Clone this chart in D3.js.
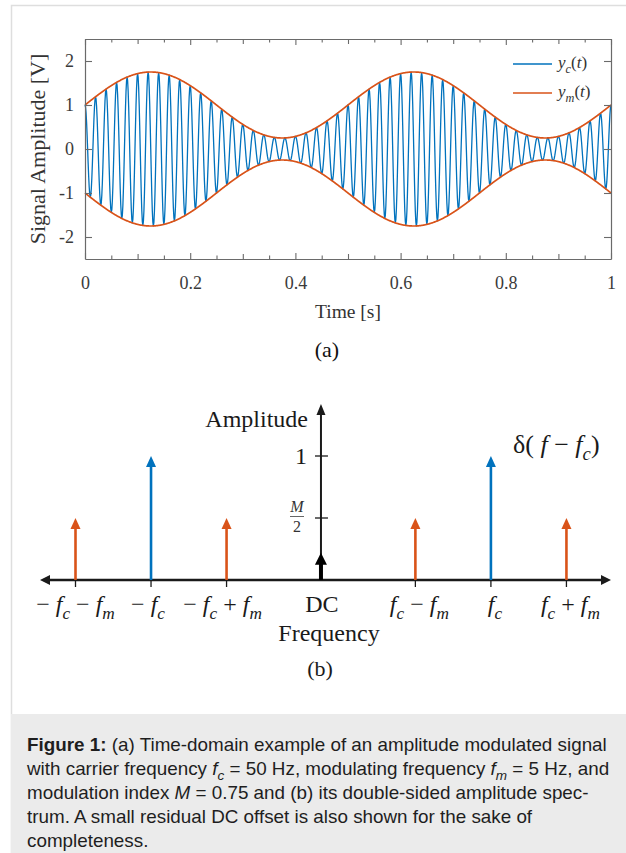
<!DOCTYPE html>
<html>
<head>
<meta charset="utf-8">
<script src="https://cdn.jsdelivr.net/npm/d3@7"></script>
<style>
  html, body { margin: 0; padding: 0; background: #fff; }
  svg { display: block; }
</style>
</head>
<body>
<svg id="fig" width="626" height="853"></svg>
<script>
// ---------- (a) time-domain AM signal ----------
const timeMajorTicks = [0, 0.2, 0.4, 0.6, 0.8, 1];
const timeMidTicks = [0.1, 0.3, 0.5, 0.7, 0.9];
const timeMinorTicks = [0.05, 0.15, 0.25, 0.35, 0.45, 0.55, 0.65, 0.75, 0.85, 0.95];
const ampTicks = [-2, -1, 0, 1, 2];
const carrierHz = 50;      // carrier frequency
const envelopeHz = 2;      // envelope (message) frequency
const modIndex = 0.75;     // modulation index M
const sampleRate = 1000;   // samples per second
const timeSpan = [0, 1];

// ---------- (b) double-sided amplitude spectrum ----------
const specNames = ["lsbNeg", "carrierNeg", "usbNeg", "dc", "lsbPos", "carrierPos", "usbPos"];
const specFreq = [-3.25, -2.25, -1.25, 0, 1.25, 2.25, 3.25];   // in units of f_m, f_c = 2.25
const specAmp = [0.5, 1, 0.5, 0.22, 0.5, 1, 0.5];
const specKind = ["side", "carrier", "side", "dc", "side", "carrier", "side"];
const specAmpTicks = [1, 0.5];

const BLUE = "#0072BD", ORANGE = "#D95319";
const SERIF = "'Liberation Serif', 'Times New Roman', serif";
const SANS = "'Liberation Sans', Arial, sans-serif";

const svg = d3.select("#fig");

// rich text: parts = [[string, flags]] with flags i=italic, b=bold, s=subscript
function rich(sel, parts, size) {
  let inSub = false;
  const shift = size * 0.28;
  parts.forEach(([str, f = ""]) => {
    const ts = sel.append("tspan").text(str);
    if (f.includes("i")) ts.attr("font-style", "italic");
    if (f.includes("b")) ts.attr("font-weight", "bold");
    const sub = f.includes("s");
    if (sub) ts.attr("font-size", size * 0.72);
    if (sub && !inSub) ts.attr("dy", shift);
    if (!sub && inSub) ts.attr("dy", -shift);
    inSub = sub;
  });
  return sel;
}

// page frame + caption box
svg.append("path").attr("d", "M11.5,853 V5.5 H626")
  .attr("fill", "none").attr("stroke", "#dedede").attr("stroke-width", 1.5);
svg.append("rect").attr("x", 11).attr("y", 714).attr("width", 615).attr("height", 139)
  .attr("fill", "#ebebeb");

// ================= panel (a) =================
const ax = { left: 85, right: 611, top: 39, bottom: 259 };
const x = d3.scaleLinear(timeSpan, [ax.left, ax.right]);
const y = d3.scaleLinear([-2.5, 2.5], [ax.bottom, ax.top]);

const pa = svg.append("g");

const tVals = d3.range(0, Math.round((timeSpan[1] - timeSpan[0]) * sampleRate) + 1)
  .map(i => timeSpan[0] + i / sampleRate);
const env = t => 1 + modIndex * Math.sin(2 * Math.PI * envelopeHz * t);
const signal = tVals.map(t => ({ t, v: env(t) * Math.cos(2 * Math.PI * carrierHz * t) }));
const upper = tVals.map(t => ({ t, v: env(t) }));
const lower = tVals.map(t => ({ t, v: -env(t) }));

const line = d3.line().x(d => x(d.t)).y(d => y(d.v));

pa.append("path").datum(signal).attr("d", line)
  .attr("fill", "none").attr("stroke", BLUE).attr("stroke-width", 1.3).attr("stroke-linejoin", "round");
[upper, lower].forEach(s => pa.append("path").datum(s).attr("d", line)
  .attr("fill", "none").attr("stroke", ORANGE).attr("stroke-width", 1.7));

// axes (MATLAB style: inward ticks on all four sides)
const axisColor = "#6a6a6a";
function styleAxis(g, labelled) {
  g.select(".domain").attr("stroke", axisColor).attr("stroke-width", 1.2);
  g.selectAll(".tick line").attr("stroke", axisColor).attr("stroke-width", 1.1);
  g.selectAll(".tick text").attr("fill", "#3a3a3a").attr("font-family", SERIF).attr("font-size", 18);
  if (!labelled) g.selectAll(".tick text").remove();
}
const bottomMajor = pa.append("g").attr("transform", `translate(0,${ax.bottom})`)
  .call(d3.axisBottom(x).tickValues(timeMajorTicks).tickSizeInner(-6).tickSizeOuter(0)
    .tickPadding(17).tickFormat(d => String(d)));
styleAxis(bottomMajor, true);
const topMajor = pa.append("g").attr("transform", `translate(0,${ax.top})`)
  .call(d3.axisTop(x).tickValues(timeMajorTicks).tickSizeInner(-6).tickSizeOuter(0));
styleAxis(topMajor, false);
[[timeMidTicks, -5], [timeMinorTicks, -3.5]].forEach(([vals, len]) => {
  const b = pa.append("g").attr("transform", `translate(0,${ax.bottom})`)
    .call(d3.axisBottom(x).tickValues(vals).tickSizeInner(len).tickSizeOuter(0));
  styleAxis(b, false); b.select(".domain").remove();
  const t = pa.append("g").attr("transform", `translate(0,${ax.top})`)
    .call(d3.axisTop(x).tickValues(vals).tickSizeInner(len).tickSizeOuter(0));
  styleAxis(t, false); t.select(".domain").remove();
});
const leftAxis = pa.append("g").attr("transform", `translate(${ax.left},0)`)
  .call(d3.axisLeft(y).tickValues(ampTicks).tickSizeInner(-7).tickSizeOuter(0)
    .tickPadding(11).tickFormat(d => String(d)));
styleAxis(leftAxis, true);
const rightAxis = pa.append("g").attr("transform", `translate(${ax.right},0)`)
  .call(d3.axisRight(y).tickValues(ampTicks).tickSizeInner(-7).tickSizeOuter(0));
styleAxis(rightAxis, false);

// axis titles
pa.append("text").attr("x", (ax.left + ax.right) / 2).attr("y", 318)
  .attr("text-anchor", "middle").attr("font-family", SERIF).attr("font-size", 19.5).attr("fill", "#333")
  .text("Time [s]");
pa.append("text").attr("transform", `translate(45,${y(0)}) rotate(-90)`)
  .attr("text-anchor", "middle").attr("font-family", SERIF).attr("font-size", 22).attr("fill", "#333")
  .text("Signal Amplitude [V]");
pa.append("text").attr("x", 327).attr("y", 357)
  .attr("text-anchor", "middle").attr("font-family", SERIF).attr("font-size", 22).attr("fill", "#111")
  .text("(a)");

// legend
const legendItems = [
  { color: BLUE, parts: [["y", "i"], ["c", "is"], ["(", ""], ["t", "i"], [")", ""]] },
  { color: ORANGE, parts: [["y", "i"], ["m", "is"], ["(", ""], ["t", "i"], [")", ""]] }
];
const lg = pa.append("g");
legendItems.forEach((it, i) => {
  const ly = 64 + i * 29;
  lg.append("line").attr("x1", 513).attr("x2", 552).attr("y1", ly).attr("y2", ly)
    .attr("stroke", it.color).attr("stroke-width", 1.3);
  rich(lg.append("text").attr("x", 558).attr("y", ly + 4).attr("font-family", SERIF)
    .attr("font-size", 17).attr("fill", "#333"), it.parts, 17);
});

// ================= panel (b) =================
const fx = d3.scaleLinear([-3.72, 3.84], [40, 611]);
const fy = d3.scaleLinear([0, 1], [580, 456]);
const pb = svg.append("g");
const INK = "#1a1a1a";
const BFONT = 24;

// frequency axis with arrowheads at both ends
const [fx0, fx1] = fx.range();
pb.append("line").attr("x1", fx0 + 4).attr("x2", fx1 - 4).attr("y1", fy(0)).attr("y2", fy(0))
  .attr("stroke", INK).attr("stroke-width", 2.4);
pb.append("path").attr("d", `M${fx0},${fy(0)} l10,-5 v10 Z`).attr("fill", INK);
pb.append("path").attr("d", `M${fx1},${fy(0)} l-10,-5 v10 Z`).attr("fill", INK);

// amplitude axis
const topAmp = 1.42;
pb.append("line").attr("x1", fx(0)).attr("x2", fx(0)).attr("y1", fy(0)).attr("y2", fy(topAmp) + 6)
  .attr("stroke", INK).attr("stroke-width", 2);
pb.append("path").attr("d", `M${fx(0)},${fy(topAmp)} l-4.5,11 h9 Z`).attr("fill", INK);

// amplitude ticks
specAmpTicks.forEach(v => {
  pb.append("line").attr("x1", fx(0) - 6).attr("x2", fx(0) + 7).attr("y1", fy(v)).attr("y2", fy(v))
    .attr("stroke", INK).attr("stroke-width", 1.3);
});
pb.append("text").attr("x", 307).attr("y", fy(1) + 8).attr("text-anchor", "end")
  .attr("font-family", SERIF).attr("font-size", BFONT).attr("fill", INK).text("1");
// M/2 fraction label
const fracX = 297;
pb.append("text").attr("x", fracX).attr("y", fy(0.5) - 6).attr("text-anchor", "middle")
  .attr("font-family", SERIF).attr("font-size", 16).attr("font-style", "italic").attr("fill", "#333").text("M");
pb.append("line").attr("x1", fracX - 7).attr("x2", fracX + 7).attr("y1", fy(0.5) - 1.5).attr("y2", fy(0.5) - 1.5)
  .attr("stroke", "#555").attr("stroke-width", 0.9);
pb.append("text").attr("x", fracX).attr("y", fy(0.5) + 14).attr("text-anchor", "middle")
  .attr("font-family", SERIF).attr("font-size", 16).attr("fill", "#333").text("2");

pb.append("text").attr("x", 308).attr("y", 427).attr("text-anchor", "end")
  .attr("font-family", SERIF).attr("font-size", BFONT).attr("fill", INK).text("Amplitude");

// frequency ticks under the axis
specFreq.forEach((f, i) => {
  if (specKind[i] === "dc") return;
  pb.append("line").attr("x1", fx(f)).attr("x2", fx(f)).attr("y1", fy(0)).attr("y2", fy(0) + 7)
    .attr("stroke", INK).attr("stroke-width", 1.3);
});

// spectral lines as arrows
specFreq.forEach((f, i) => {
  const kind = specKind[i];
  const color = kind === "carrier" ? BLUE : kind === "side" ? ORANGE : "#000";
  const w = kind === "dc" ? 4 : 2.6;
  const hw = kind === "dc" ? 6 : 5;
  const hh = kind === "dc" ? 12 : 11;
  const tip = fy(specAmp[i]);
  pb.append("line").attr("x1", fx(f)).attr("x2", fx(f)).attr("y1", fy(0)).attr("y2", tip + hh - 1)
    .attr("stroke", color).attr("stroke-width", w);
  pb.append("path").attr("d", `M${fx(f)},${tip} l${-hw},${hh} h${2 * hw} Z`).attr("fill", color);
});

// frequency labels
const specLabelParts = [
  [["\u2212 ", ""], ["f", "i"], ["c", "is"], [" \u2212 ", ""], ["f", "i"], ["m", "is"]],
  [["\u2212 ", ""], ["f", "i"], ["c", "is"]],
  [["\u2212 ", ""], ["f", "i"], ["c", "is"], [" + ", ""], ["f", "i"], ["m", "is"]],
  [["DC", ""]],
  [["f", "i"], ["c", "is"], [" \u2212 ", ""], ["f", "i"], ["m", "is"]],
  [["f", "i"], ["c", "is"]],
  [["f", "i"], ["c", "is"], [" + ", ""], ["f", "i"], ["m", "is"]]
];
const labelShift = [0, -3, -4, 1, 4, 4, 4];
specFreq.forEach((f, i) => {
  rich(pb.append("text").attr("x", fx(f) + labelShift[i]).attr("y", 612).attr("text-anchor", "middle")
    .attr("font-family", SERIF).attr("font-size", BFONT).attr("fill", INK), specLabelParts[i], BFONT);
});

pb.append("text").attr("x", 329).attr("y", 641).attr("text-anchor", "middle")
  .attr("font-family", SERIF).attr("font-size", BFONT).attr("fill", INK).text("Frequency");
pb.append("text").attr("x", 320).attr("y", 676).attr("text-anchor", "middle")
  .attr("font-family", SERIF).attr("font-size", 22).attr("fill", INK).text("(b)");

// carrier delta annotation
rich(pb.append("text").attr("x", 513).attr("y", 453).attr("font-family", SERIF)
  .attr("font-size", 26).attr("fill", INK),
  [["\u03b4( ", ""], ["f", "i"], [" \u2212 ", ""], ["f", "i"], ["c", "is"], [")", ""]], 26);

// ================= caption =================
const captionLines = [
  [["Figure 1:", "b"], [" (a) Time-domain example of an amplitude modulated signal", ""]],
  [["with carrier frequency ", ""], ["f", "i"], ["c", "is"], [" = 50 Hz, modulating frequency ", ""],
   ["f", "i"], ["m", "is"], [" = 5 Hz, and", ""]],
  [["modulation index ", ""], ["M", "i"], [" = 0.75 and (b) its double-sided amplitude spec-", ""]],
  [["trum. A small residual DC offset is also shown for the sake of", ""]],
  [["completeness.", ""]]
];
// size the caption font so the first line fills the text column
const capWidth = 580;
const probe = rich(svg.append("text").attr("font-family", SANS).attr("font-size", 16), captionLines[0], 16);
const capSize = 16 * capWidth / probe.node().getComputedTextLength();
probe.remove();
captionLines.forEach((parts, i) => {
  rich(svg.append("text").attr("x", 27).attr("y", 751 + i * 24)
    .attr("font-family", SANS).attr("font-size", capSize).attr("fill", "#1e1e1e"), parts, capSize);
});
</script>
</body>
</html>
